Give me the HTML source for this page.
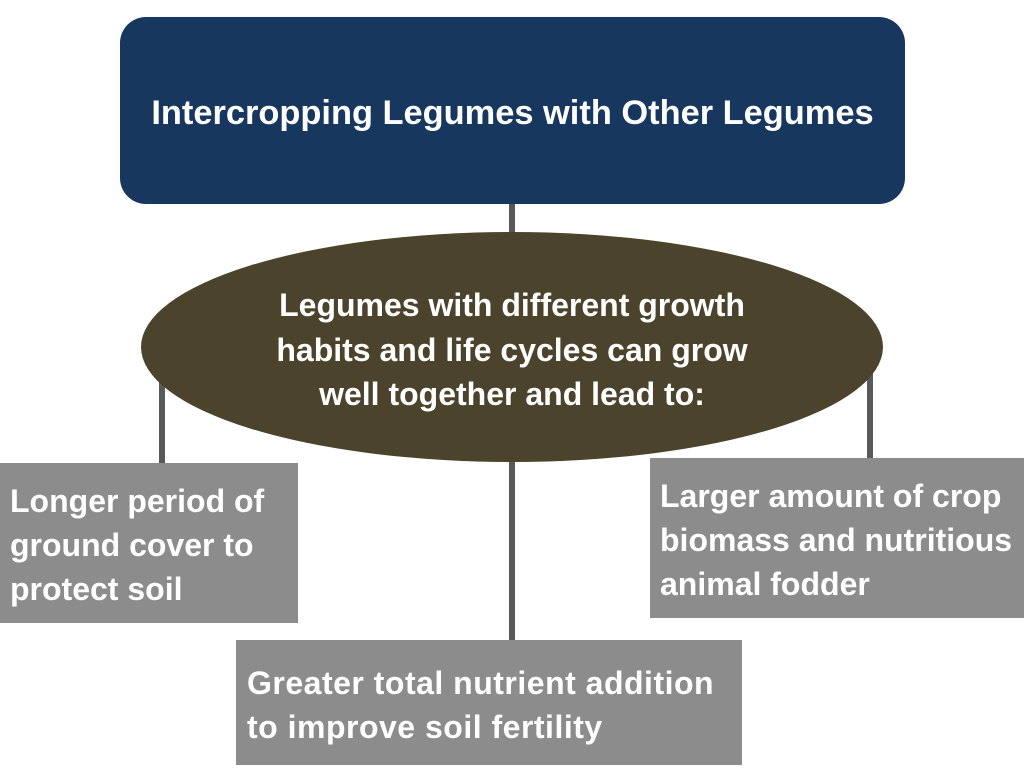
<!DOCTYPE html>
<html><head><meta charset="utf-8"><style>
body{margin:0;width:1024px;height:768px;background:#fff;position:relative;overflow:hidden;font-family:"Liberation Sans",sans-serif;font-weight:bold;color:#fff}
.a{position:absolute}
.line{position:absolute;background:#595959}
.box{position:absolute;background:#8c8c8c;font-size:32px;line-height:44px;box-sizing:border-box;white-space:nowrap}
</style></head><body>
<div class="line" style="left:509px;top:200px;width:6px;height:40px"></div>
<div class="line" style="left:509px;top:455px;width:6px;height:190px"></div>
<div class="line" style="left:159px;top:378px;width:6px;height:90px"></div>
<div class="line" style="left:867px;top:370px;width:6px;height:92px"></div>
<div class="a" style="left:120px;top:17px;width:785px;height:187px;box-sizing:border-box;padding-top:6px;background:#17375e;border-radius:26px;display:flex;align-items:center;justify-content:center;font-size:34.4px;white-space:nowrap">Intercropping Legumes with Other Legumes</div>
<div class="a" style="left:141px;top:232px;width:742px;height:230px;background:#4b432b;border-radius:50%"></div>
<div class="a" style="left:162px;top:283px;width:700px;text-align:center;font-size:32px;line-height:44.5px;white-space:nowrap">Legumes with different growth<br>habits and life cycles can grow<br>well together and lead to:</div>
<div class="box" style="left:0;top:463px;width:298px;height:160px;padding:16px 0 0 10px">Longer period of<br>ground cover to<br>protect soil</div>
<div class="box" style="left:650px;top:458px;width:374px;height:160px;padding:16px 0 0 10px">Larger amount of crop<br>biomass and nutritious<br>animal fodder</div>
<div class="box" style="left:236px;top:640px;width:506px;height:125px;padding:21px 0 0 11px;letter-spacing:0.5px">Greater total nutrient addition<br>to improve soil fertility</div>
</body></html>
